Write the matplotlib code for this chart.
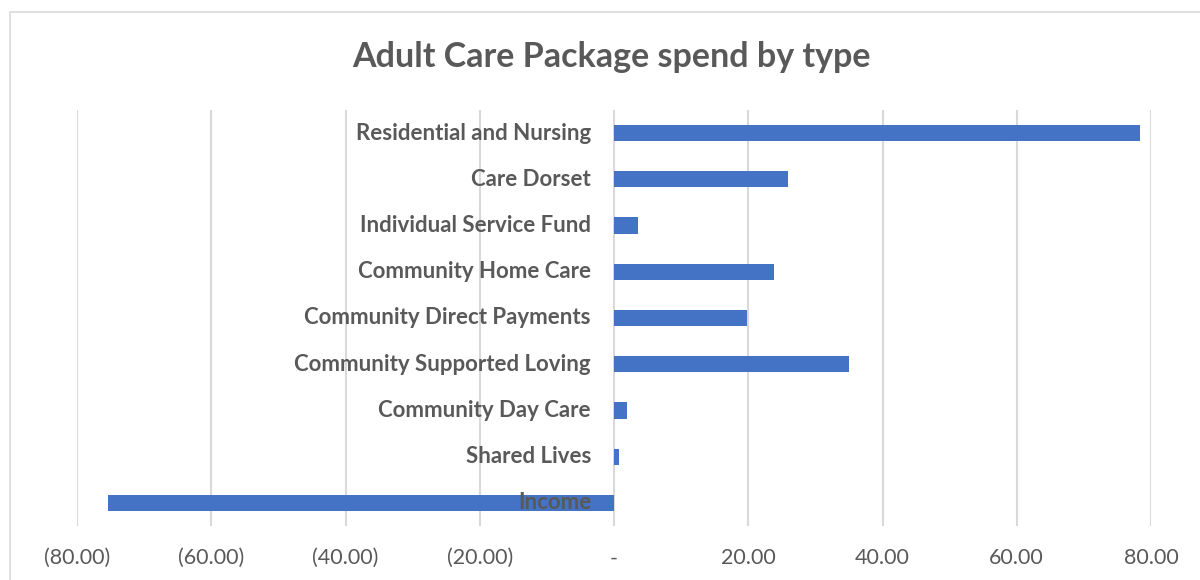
import matplotlib
matplotlib.use("Agg")
import matplotlib.pyplot as plt
from matplotlib.patches import Rectangle

categories = ["Residential and Nursing", "Care Dorset", "Individual Service Fund",
              "Community Home Care", "Community Direct Payments",
              "Community Supported Loving", "Community Day Care", "Shared Lives", "Income"]
values = [78.3, 25.9, 3.6, 23.8, 19.8, 35.0, 1.9, 0.7, -75.4]
xticks = [-80, -60, -40, -20, 0, 20, 40, 60, 80]
xtick_labels = ["(80.00)", "(60.00)", "(40.00)", "(20.00)", "-", "20.00", "40.00", "60.00", "80.00"]
title = "Adult Care Package spend by type"

GRAY = "#595959"
BLUE = "#4472C4"
FONT = ["Lato", "DejaVu Sans"]

fig = plt.figure(figsize=(12, 5.8), dpi=100)
fig.patches.append(Rectangle((10 / 1200, -0.1), 1.2, 1 - 12 / 580 + 0.1,
                             transform=fig.transFigure, fill=False,
                             edgecolor="#d9d9d9", linewidth=1.2))

ax = fig.add_axes([77 / 1200, 1 - 526 / 580, 1074 / 1200, 416 / 580])
ypos = list(range(len(categories)))
ax.barh(ypos, values, height=0.35, color=BLUE, zorder=2)
ax.set_ylim(len(categories) - 0.5, -0.5)
ax.set_xlim(-80, 80)
ax.set_xticks(xticks)
ax.set_xticklabels(xtick_labels, family=FONT, fontsize=15.5, color=GRAY)
ax.tick_params(axis="x", length=0, pad=16)
ax.set_yticks([])
for s in ax.spines.values():
    s.set_visible(False)
for x in xticks:
    ax.axvline(x, color="#d9d9d9", linewidth=1.5, zorder=1)

for y, lab in zip(ypos, categories):
    ax.annotate(lab, xy=(0, y), xytext=(-23, 0), textcoords="offset pixels",
                ha="right", va="center", fontsize=16, fontweight="bold",
                color=GRAY, family=FONT, zorder=3)

fig.text(611 / 1200, 1 - 57 / 580, title, ha="center", va="center",
         fontsize=24.5, fontweight="bold", color=GRAY, family=FONT)

fig.savefig("out.png", dpi=100)
